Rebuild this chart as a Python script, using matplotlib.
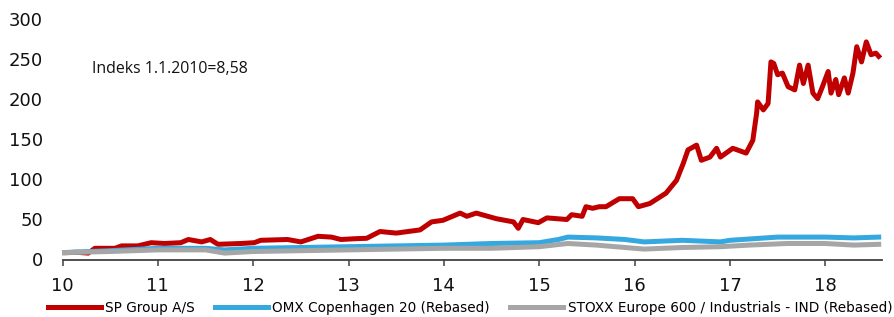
import matplotlib
matplotlib.use("Agg")
import matplotlib.pyplot as plt

# ---- data ----
t_red = [10.00, 10.03, 10.15, 10.27, 10.34, 10.55, 10.62, 10.79, 10.93, 11.07, 11.24, 11.32,
         11.46, 11.55, 11.63, 11.87, 12.01, 12.08, 12.36, 12.50, 12.68, 12.82, 12.92, 13.07,
         13.19, 13.33, 13.50, 13.75, 13.87, 13.99, 14.17, 14.24, 14.34, 14.55, 14.73, 14.78,
         14.83, 14.99, 15.08, 15.29, 15.34, 15.45, 15.49, 15.56, 15.63, 15.70, 15.84, 15.88,
         15.98, 16.04, 16.16, 16.33, 16.44, 16.51, 16.56, 16.65, 16.70, 16.79, 16.86, 16.90,
         17.03, 17.17, 17.24, 17.28, 17.29, 17.35, 17.40, 17.43, 17.46, 17.50, 17.55, 17.61,
         17.68, 17.73, 17.77, 17.82, 17.87, 17.92, 17.97, 18.03, 18.06, 18.11, 18.14, 18.20,
         18.24, 18.29, 18.33, 18.38, 18.43, 18.48, 18.53, 18.56]
v_red = [8.58, 8.5, 9, 8, 14, 14, 17, 17, 21, 20, 21, 25,
         22, 25, 19, 20, 21, 24, 25, 22, 29, 28, 25, 26,
         26.5, 35, 33, 37, 47, 49, 58, 54, 58, 51, 47, 39,
         50, 46, 52, 50, 56, 54, 66, 64, 66, 66, 76, 76,
         76, 66, 70, 83, 99, 120, 137, 143, 124, 128, 139, 128,
         139, 133, 149, 183, 197, 187, 195, 247, 245, 231, 233, 216,
         212, 243, 220, 243, 208, 201, 216, 235, 208, 225, 206, 227,
         208, 233, 266, 247, 272, 256, 258, 254]

t_omx = [10.0, 10.5, 11.0, 11.5, 11.7, 12.0, 12.5, 13.0, 13.5, 14.0, 14.5, 15.0, 15.2, 15.3,
         15.6, 15.9, 16.1, 16.5, 16.9, 17.0, 17.5, 18.0, 18.3, 18.56]
v_omx = [8.6, 11, 14, 14, 12, 14, 15, 16, 17, 18, 20, 21, 25, 28,
         27, 25, 22, 24, 22, 24, 28, 28, 27, 28]

t_stoxx = [10.0, 10.5, 11.0, 11.5, 11.7, 12.0, 12.5, 13.0, 13.5, 14.0, 14.5, 15.0, 15.3, 15.6,
           16.0, 16.1, 16.5, 16.9, 17.2, 17.6, 18.0, 18.3, 18.56]
v_stoxx = [8.6, 10, 12, 12, 8, 10, 11, 12, 13, 14, 14, 16, 20, 18,
           14, 13, 15, 16, 18, 20, 20, 18, 19]

labels = ["SP Group A/S", "OMX Copenhagen 20 (Rebased)",
          "STOXX Europe 600 / Industrials - IND (Rebased)"]
x_ticks = [10, 11, 12, 13, 14, 15, 16, 17, 18]
y_ticks = [0, 50, 100, 150, 200, 250, 300]
note = "Indeks 1.1.2010=8,58"

# ---- figure ----
fig = plt.figure(figsize=(8.95, 3.17), dpi=100)
ax = fig.add_axes([62.5 / 895, 57.5 / 317, 820 / 895, 240 / 317])

lw = 3.6
ax.plot(t_red, v_red, color="#c00000", lw=lw, solid_joinstyle="round", label=labels[0])
ax.plot(t_omx, v_omx, color="#35a8e0", lw=lw, solid_joinstyle="round", label=labels[1])
ax.plot(t_stoxx, v_stoxx, color="#a6a6a6", lw=lw, solid_joinstyle="round", label=labels[2])

ax.set_xlim(10, 18.6)
ax.set_ylim(0, 300)
ax.set_xticks(x_ticks)
ax.set_xticklabels([str(v) for v in x_ticks])
ax.set_yticks(y_ticks)

for s in ["top", "right", "left"]:
    ax.spines[s].set_visible(False)
ax.spines["bottom"].set_color("#404040")
ax.spines["bottom"].set_linewidth(1.3)
ax.tick_params(axis="x", direction="out", length=4.5, width=1.1, color="#404040",
               pad=8, labelsize=13, labelcolor="#111111")
ax.tick_params(axis="y", length=0, pad=14, labelsize=13, labelcolor="#111111")

ax.text(92 / 895, 1 - 69 / 317, note, transform=fig.transFigure, ha="left", va="center",
        fontsize=11.4, family="Open Sans", color="#111111")

fig.legend(loc="center", bbox_to_anchor=(470 / 895, 1 - 308 / 317), ncol=3,
           frameon=False, fontsize=9.8, handlelength=3.9, handletextpad=0.3,
           columnspacing=1.5, borderpad=0, borderaxespad=0)

fig.savefig("out.png", dpi=100)
